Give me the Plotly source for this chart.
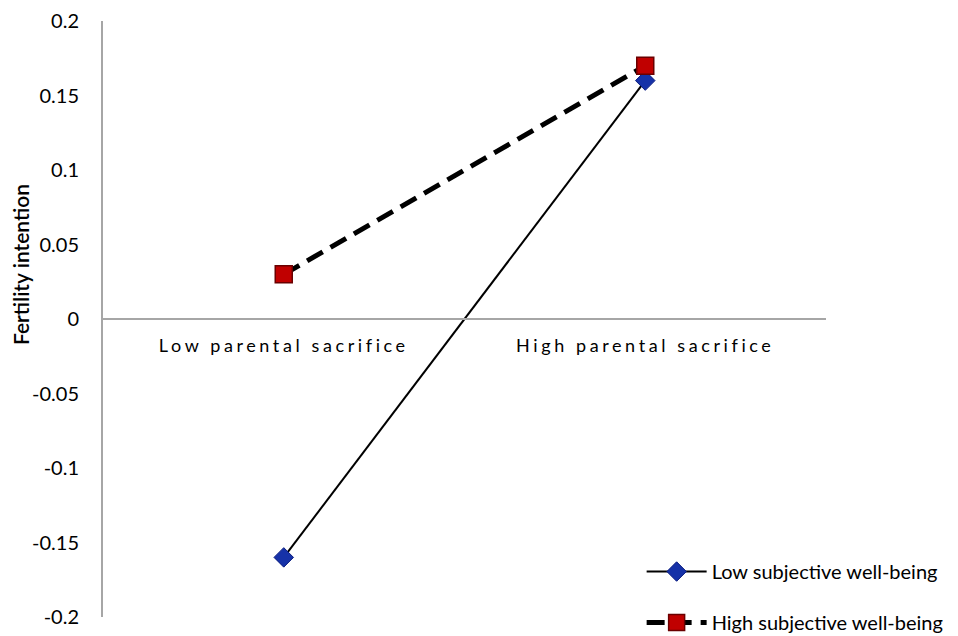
import plotly.graph_objects as go

categories = ["Low parental sacrifice", "High parental sacrifice"]
low_swb = [-0.16, 0.16]
high_swb = [0.03, 0.17]
series_names = ["Low subjective well-being", "High subjective well-being"]
y_tickvals = [0.2, 0.15, 0.1, 0.05, 0, -0.05, -0.1, -0.15, -0.2]
y_ticktext = ["0.2", "0.15", "0.1", "0.05", "0", "-0.05", "-0.1", "-0.15", "-0.2"]
y_title = "Fertility intention"

FONT = "Lato, 'Open Sans', sans-serif"

fig = go.Figure()
fig.add_trace(go.Scatter(
    x=categories, y=low_swb, name=series_names[0], mode="lines+markers",
    line=dict(color="black", width=2),
    marker=dict(symbol="diamond", size=15, color="#1632a8",
                line=dict(color="#0a1c80", width=1)),
    legendgroup="a",
))
fig.add_trace(go.Scatter(
    x=categories, y=high_swb, name=series_names[1], mode="lines+markers",
    line=dict(color="black", width=5, dash="18px,9px"),
    marker=dict(symbol="square", size=17, color="#c00000",
                line=dict(color="#6a0000", width=1.5)),
    legendgroup="b",
))

fig.update_layout(
    width=958, height=636,
    margin=dict(l=103, r=132, t=21, b=19, autoexpand=False),
    paper_bgcolor="white", plot_bgcolor="white",
    font=dict(family=FONT, size=20, color="black"),
    showlegend=True,
    legend=dict(x=0.745, xanchor="left", y=-0.042, yanchor="bottom",
                bgcolor="rgba(0,0,0,0)", font=dict(size=20, family=FONT),
                tracegroupgap=22, traceorder="grouped", itemwidth=60),
    xaxis=dict(type="category", range=[-0.5, 1.5], showgrid=False,
               showline=True, linecolor="#a6a6a6", linewidth=2,
               anchor="free", position=0.5, ticks="", zeroline=False,
               automargin=False,
               tickfont=dict(size=18, family=FONT), ticklabelstandoff=10),
    yaxis=dict(range=[-0.2, 0.2], tickvals=y_tickvals, ticktext=y_ticktext,
               showgrid=False, zeroline=False, showline=True, automargin=False,
               linecolor="#a6a6a6", linewidth=2, ticks="",
               ticklabelstandoff=18, tickfont=dict(size=20, family=FONT)),
    annotations=[dict(text=y_title, textangle=-90, xref="paper", yref="paper",
                      x=-0.115, y=0.592, xanchor="center", yanchor="middle",
                      showarrow=False,
                      font=dict(size=21, family=FONT, color="black", weight=600))],
)

post = """
document.body.style.margin = '0';
var gd = document.getElementById('{plot_id}');
function ls(){ gd.querySelectorAll('.xtick text').forEach(function(t){ t.style.letterSpacing='3.6px'; }); }
ls(); gd.on('plotly_afterplot', ls);
"""
fig.write_html("out.html", post_script=post, config={"displayModeBar": False})
